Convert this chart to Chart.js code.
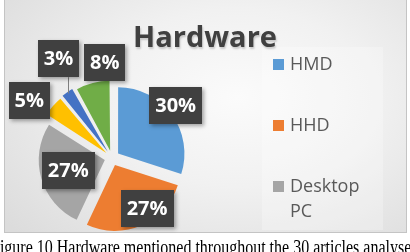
<!DOCTYPE html>
<html>
<head>
<meta charset="utf-8">
<script src="https://cdn.jsdelivr.net/npm/chart.js@4.4.1/dist/chart.umd.min.js"></script>
<style>
  * { box-sizing: border-box; }
  html, body { margin: 0; padding: 0; background: #ffffff; overflow: hidden; }
  .page { position: relative; width: 410px; height: 252px; overflow: hidden; }
  .frame {
    position: absolute; left: 4px; top: -1px; width: 403px; height: 234px;
    border: 1px solid #c4c4c4;
    background: radial-gradient(ellipse 75% 85% at 58% 42%, #fbfbfb 0%, #f1f1f1 45%, #dcdcdc 100%);
  }
  .legend-bg {
    position: absolute; left: 262px; top: 47px; width: 121px; height: 183px;
    background: rgba(255,255,255,0.25);
  }
  #pie { position: absolute; left: 0; top: 0; }
  .title {
    position: absolute; left: 0; width: 410px; top: 17px; text-align: center;
    font-family: 'Open Sans', sans-serif; font-weight: 700; font-size: 29px;
    line-height: 38px; color: #404040;
    text-shadow: 1px 2px 2px rgba(0,0,0,0.18);
  }
  .legend { position: absolute; left: 273px; top: 51px; }
  .legend .item { position: relative; height: 61px; }
  .legend .sw { position: absolute; left: 0; top: 8px; width: 11px; height: 11px; }
  .legend .lbl {
    position: absolute; left: 17px; top: 0; width: 100px;
    font-family: 'Open Sans', sans-serif; font-size: 18px; line-height: 25px; color: #595959;
  }
  .caption {
    position: absolute; left: -9px; top: 236px; white-space: nowrap;
    font-family: 'Liberation Serif', 'Times New Roman', serif; font-size: 16px;
    line-height: 18px; color: #000;
    transform: scaleY(1.3); transform-origin: top left;
  }
</style>
</head>
<body>
<div class="page">
  <div class="frame"></div>
  <div class="legend-bg"></div>
  <canvas id="pie" width="410" height="252"></canvas>
  <div class="title">Hardware</div>
  <div class="legend" id="legend"></div>
  <div class="caption">Figure 10 Hardware mentioned throughout the 30 articles analysed</div>
</div>
<script>
// slices, clockwise from 12 o'clock
const categories = ["HMD", "HHD", "Desktop PC", "Tablet", "Smartphone", "Other"];
const shares = [30, 27, 27, 5, 3, 8];
const colors = ["#5b9bd5", "#ed7d31", "#a5a5a5", "#ffc000", "#4472c4", "#70ad47"];
const legendCount = 3; // only the first three fit in the legend box

// where each dark label box sits, relative to the slice centroid (half radius)
const LABEL_SHIFT = [[37, -33], [22, 20], [-12, 3], [-58, -36], [-35, -72], [1, -64]];
const LEADER = [false, false, false, false, true, false];

// html legend
const legendEl = document.getElementById("legend");
legendEl.innerHTML = categories.slice(0, legendCount).map((name, i) => `
  <div class="item">
    <div class="sw" style="background:${colors[i]}"></div>
    <div class="lbl">${name.replace(" ", "<br>")}</div>
  </div>`).join("");

const boxLabels = {
  id: "boxLabels",
  afterDatasetsDraw(chart) {
    const ctx = chart.ctx;
    const arcs = chart.getDatasetMeta(0).data;
    ctx.save();
    ctx.font = "bold 20px 'Open Sans'";
    arcs.forEach((arc, i) => {
      const mid = (arc.startAngle + arc.endAngle) / 2;
      const cx = arc.x + Math.cos(mid) * arc.outerRadius / 2;
      const cy = arc.y + Math.sin(mid) * arc.outerRadius / 2;
      const x = cx + LABEL_SHIFT[i][0];
      const y = cy + LABEL_SHIFT[i][1];
      const text = shares[i] + "%";
      const w = ctx.measureText(text).width + 12;
      const h = 37;

      if (LEADER[i]) {
        const r = arc.outerRadius + 12;
        const ox = arc.x + Math.cos(mid) * r;
        const oy = arc.y + Math.sin(mid) * r;
        ctx.strokeStyle = "#7f7f7f";
        ctx.lineWidth = 1;
        ctx.beginPath();
        ctx.moveTo(Math.round(ox) + 0.5, oy);
        ctx.lineTo(Math.round(ox) + 0.5, y + h / 2);
        ctx.stroke();
      }

      ctx.save();
      ctx.shadowColor = "rgba(0,0,0,0.35)";
      ctx.shadowBlur = 4;
      ctx.shadowOffsetX = 2;
      ctx.shadowOffsetY = 2;
      ctx.fillStyle = "#404040";
      ctx.fillRect(Math.round(x - w / 2), Math.round(y - h / 2), Math.round(w), h);
      ctx.restore();

      ctx.fillStyle = "#ffffff";
      ctx.textAlign = "center";
      ctx.textBaseline = "middle";
      ctx.fillText(text, x, y + 1);
    });
    ctx.restore();
  }
};

new Chart(document.getElementById("pie"), {
  type: "pie",
  data: {
    labels: categories,
    datasets: [{
      data: shares,
      backgroundColor: colors,
      borderWidth: 0,
      offset: 30,
      hoverOffset: 0
    }]
  },
  options: {
    responsive: false,
    animation: false,
    devicePixelRatio: 1,
    layout: { padding: { left: 31, right: 217, top: 77, bottom: 13 } },
    plugins: {
      legend: { display: false },
      tooltip: { enabled: false },
      title: { display: false }
    }
  },
  plugins: [boxLabels]
});
</script>
</body>
</html>
